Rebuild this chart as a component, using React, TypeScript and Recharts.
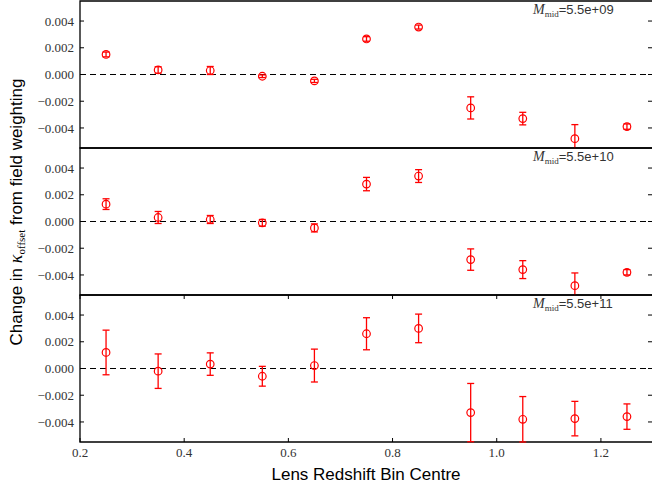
import React from "react";
import {
  ScatterChart,
  Scatter,
  XAxis,
  YAxis,
  ErrorBar,
  ReferenceLine,
  ReferenceArea,
} from "recharts";

// bin centres shared by all three panels
const binCentres = [0.25, 0.35, 0.45, 0.55, 0.65, 0.75, 0.85, 0.95, 1.05, 1.15, 1.25];

const offset09 = [0.0015, 0.00034, 0.0003, -0.00013, -0.00048, 0.00266, 0.00355, -0.0025, -0.0033, -0.0048, -0.0039];
const err09 = [0.00018, 0.00024, 0.0003, 0.0001, 0.00012, 0.00017, 0.00015, 0.00083, 0.00047, 0.00105, 0.0002];

const offset10 = [0.0013, 0.0003, 0.00015, -0.0001, -0.00048, 0.0028, 0.0034, -0.00285, -0.0036, -0.0048, -0.0038];
const err10 = [0.0004, 0.00045, 0.0003, 0.00025, 0.0003, 0.0005, 0.00048, 0.0008, 0.00067, 0.00095, 0.0002];

const offset11 = [0.0012, -0.0002, 0.00033, -0.00058, 0.00022, 0.0026, 0.003, -0.0033, -0.0038, -0.00375, -0.0036];
const err11 = [0.00167, 0.00129, 0.00084, 0.00074, 0.00123, 0.0012, 0.00107, 0.00218, 0.0017, 0.00129, 0.00095];

const massLabels = ["5.5e+09", "5.5e+10", "5.5e+11"];

const xTicks = [0.2, 0.4, 0.6, 0.8, 1.0, 1.2];
const yTicks = [-0.004, -0.002, 0, 0.002, 0.004];
const xDomain: [number, number] = [0.2, 1.3];
const yDomain: [number, number] = [-0.0055, 0.0055];

const W = 653;
const AXIS_W = 80;
const PLOT_TOP = 1;
const PLOT_H = 147;
const PLOT_RIGHT = W;
const SERIF = "'Liberation Serif', 'DejaVu Serif', serif";
const SANS = "'Liberation Sans', Arial, sans-serif";
const RED = "#ff0000";

const fmtY = (v: number) => (v === 0 ? "0.000" : (v < 0 ? "\u2212" : "") + Math.abs(v).toFixed(3));

const YTick = (props: any) => {
  const { x, y, payload } = props;
  return (
    <g>
      <line x1={x} x2={x + 4} y1={y} y2={y} stroke="#000" strokeWidth={1} />
      <line x1={PLOT_RIGHT - 5} x2={PLOT_RIGHT} y1={y} y2={y} stroke="#000" strokeWidth={1} />
      <text x={x - 6} y={y} dy="0.355em" textAnchor="end" fontFamily={SERIF} fontSize={13} fill="#333">
        {fmtY(payload.value)}
      </text>
    </g>
  );
};

const makeXTick = (showLabels: boolean) => (props: any) => {
  const { x, y, payload } = props;
  return (
    <g>
      <line x1={x} x2={x} y1={y} y2={y - 4} stroke="#000" strokeWidth={1} />
      <line x1={x} x2={x} y1={PLOT_TOP} y2={PLOT_TOP + 4} stroke="#000" strokeWidth={1} />
      {showLabels && (
        <text x={x} y={y + 6} dy="0.71em" textAnchor="middle" fontFamily={SERIF} fontSize={13} fill="#333">
          {payload.value.toFixed(1)}
        </text>
      )}
    </g>
  );
};

const OpenCircle = (props: any) => (
  <circle cx={props.cx} cy={props.cy} r={3.8} fill="none" stroke={RED} strokeWidth={1.2} />
);

const Panel = ({ values, errs, top, showX }: { values: number[]; errs: number[]; top: number; showX: boolean }) => {
  const data = binCentres.map((x, i) => ({ x, y: values[i], err: errs[i] }));
  const xAxisH = showX ? 46 : 0;
  return (
    <div style={{ position: "absolute", left: 0, top }}>
      <ScatterChart
        width={W}
        height={PLOT_TOP + PLOT_H + xAxisH + (showX ? 0 : 1)}
        margin={{ top: PLOT_TOP, right: 0, bottom: showX ? 0 : 1, left: 0 }}
      >
        <XAxis
          dataKey="x"
          type="number"
          domain={xDomain}
          ticks={xTicks}
          interval={0}
          allowDataOverflow
          axisLine={false}
          tickLine={false}
          tickSize={0}
          tickMargin={0}
          height={xAxisH}
          tick={makeXTick(showX)}
        />
        <YAxis
          dataKey="y"
          type="number"
          domain={yDomain}
          ticks={yTicks}
          interval={0}
          allowDataOverflow
          axisLine={false}
          tickLine={false}
          tickSize={0}
          tickMargin={0}
          width={AXIS_W}
          tick={<YTick />}
        />
        <ReferenceLine y={0} stroke="#000" strokeWidth={1.2} strokeDasharray="6 4" />
        <Scatter data={data} shape={<OpenCircle />} isAnimationActive={false}>
          <ErrorBar dataKey="err" direction="y" width={3.5} stroke={RED} strokeWidth={1.3} />
        </Scatter>
        <ReferenceArea
          x1={xDomain[0]}
          x2={xDomain[1]}
          y1={yDomain[0]}
          y2={yDomain[1]}
          fill="none"
          fillOpacity={0}
          stroke="#000"
          strokeWidth={1.3}
        />
      </ScatterChart>
    </div>
  );
};

const MassNote = ({ top, value }: { top: number; value: string }) => (
  <svg style={{ position: "absolute", left: 520, top, overflow: "visible" }} width={132} height={20}>
    <text x={13} y={14} fill="#333">
      <tspan fontFamily={SERIF} fontStyle="italic" fontSize={14}>M</tspan>
      <tspan fontFamily={SERIF} fontSize={9} dy={3}>mid</tspan>
      <tspan fontFamily={SANS} fontSize={13} dy={-3}>={value}</tspan>
    </text>
  </svg>
);

export default function App() {
  return (
    <div style={{ position: "absolute", left: 0, top: 0, width: 652, height: 489, overflow: "hidden", background: "#fff" }}>
      <Panel values={offset09} errs={err09} top={0} showX={false} />
      <Panel values={offset10} errs={err10} top={PLOT_H} showX={false} />
      <Panel values={offset11} errs={err11} top={PLOT_H * 2} showX={true} />
      {massLabels.map((m, i) => (
        <MassNote key={m} top={PLOT_H * i} value={m} />
      ))}
      <svg style={{ position: "absolute", left: 0, top: 0 }} width={40} height={442}>
        <text transform="translate(22,212) rotate(-90)" textAnchor="middle" fontFamily={SANS} fontSize={17} fill="#000">
          Change in{" "}
          <tspan fontFamily={SERIF} fontStyle="italic" fontSize={18}>κ</tspan>
          <tspan fontFamily={SERIF} fontSize={11} dy={3}>offset</tspan>
          <tspan dy={-3}> from field weighting</tspan>
        </text>
      </svg>
      <svg style={{ position: "absolute", left: 0, top: 442 }} width={652} height={47}>
        <text x={366} y={38} textAnchor="middle" fontFamily={SANS} fontSize={17} fill="#000">
          Lens Redshift Bin Centre
        </text>
      </svg>
    </div>
  );
}
